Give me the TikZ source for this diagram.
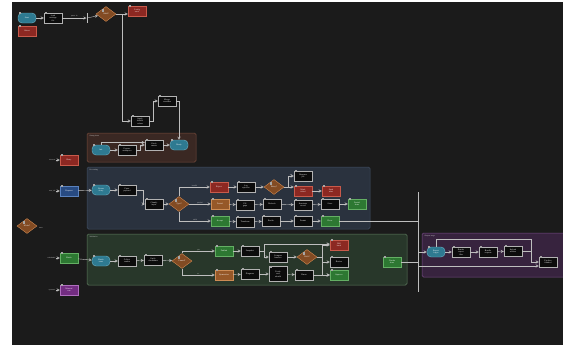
\documentclass[tikz,border=0pt]{standalone}
\usepackage{tikz}
\usetikzlibrary{positioning,calc,shapes.geometric}
\definecolor{CanvasDark}{RGB}{27,27,27}
\definecolor{EdgeGrey}{RGB}{190,190,190}
\definecolor{TermTeal}{RGB}{46,122,145}
\definecolor{TermEdge}{RGB}{110,180,200}
\definecolor{ErrRed}{RGB}{140,40,34}
\definecolor{ErrEdge}{RGB}{200,90,75}
\definecolor{WarnOrange}{RGB}{150,88,40}
\definecolor{WarnEdge}{RGB}{205,140,85}
\definecolor{OkGreen}{RGB}{45,120,50}
\definecolor{OkEdge}{RGB}{100,175,100}
\definecolor{InBlue}{RGB}{40,75,130}
\definecolor{InEdge}{RGB}{90,130,190}
\definecolor{OutPurple}{RGB}{115,45,130}
\definecolor{OutEdge}{RGB}{175,110,190}
\definecolor{DecBrown}{RGB}{130,75,35}
\definecolor{DecEdge}{RGB}{205,135,80}
\definecolor{StepBlack}{RGB}{12,12,12}
\definecolor{GrpBrownFill}{RGB}{58,40,35}
\definecolor{GrpBrownLine}{RGB}{120,75,60}
\definecolor{GrpBlueFill}{RGB}{42,50,62}
\definecolor{GrpBlueLine}{RGB}{65,80,100}
\definecolor{GrpGreenFill}{RGB}{40,55,42}
\definecolor{GrpGreenLine}{RGB}{95,125,95}
\definecolor{GrpPurpleFill}{RGB}{55,35,62}
\definecolor{GrpPurpleLine}{RGB}{120,75,135}

\begin{document}
\begin{tikzpicture}[x=1pt, y=-1pt,
  tagmark/.style={draw=white!65!black, fill=StepBlack, minimum size=1.3pt, inner sep=0pt, line width=0.2pt},
  base/.style={rectangle, text=white, font=\sffamily\fontsize{2}{2.4}\selectfont, align=center, inner sep=0.5pt, minimum width=18pt, minimum height=10pt, line width=0.4pt,
    append after command={node[tagmark] at ([xshift=1.6pt]\tikzlastnode.north west) {}}},
  term/.style={base, draw=TermEdge, fill=TermTeal, rounded corners=4pt},
  stepbox/.style={base, draw=white!70!black, fill=StepBlack},
  errbox/.style={base, draw=ErrEdge, fill=ErrRed},
  warnbox/.style={base, draw=WarnEdge, fill=WarnOrange},
  okbox/.style={base, draw=OkEdge, fill=OkGreen},
  inbox/.style={base, draw=InEdge, fill=InBlue},
  outbox/.style={base, draw=OutEdge, fill=OutPurple},
  decision/.style={base, diamond, aspect=1.3, draw=DecEdge, fill=DecBrown, minimum width=20pt, minimum height=15pt},
  grp/.style={rounded corners=1.5pt, line width=0.5pt},
  note/.style={text=white!85!black, font=\sffamily\fontsize{1.8}{2}\selectfont, inner sep=0.3pt},
  arrow/.style={->, >=stealth, draw=EdgeGrey, line width=0.4pt},
  line/.style={draw=EdgeGrey, line width=0.4pt},
  bar/.style={fill=EdgeGrey, inner sep=0pt, minimum width=0.6pt, minimum height=10pt}
]
  \useasboundingbox (0,0) rectangle (563,346);
  \fill[white] (0,0) rectangle (563,346);
  \fill[CanvasDark] (12,2) rectangle (563,345);

  % group panels
  \draw[grp, draw=GrpBrownLine, fill=GrpBrownFill] (87,133) rectangle (196,162);
  \draw[grp, draw=GrpBlueLine, fill=GrpBlueFill] (87,167) rectangle (370,229);
  \draw[grp, draw=GrpGreenLine, fill=GrpGreenFill] (87,234) rectangle (407,285);
  \draw[grp, draw=GrpPurpleLine, fill=GrpPurpleFill] (422,233) rectangle (566,277);
  \node[note, anchor=north west] (setupTitle) at (89,134.5) {Setup phase};
  \node[note, anchor=north west] (procTitle) at (89,168.5) {Processing};
  \node[note, anchor=north west] (checkTitle) at (89,235.5) {Validation};
  \node[note, anchor=north west] (outTitle) at (424,234.5) {Output stage};

  % config chain
  \node[term] (start) at (27,18) {Start};
  \node[errbox] (abort) at (27,31) {Abort};
  \node[stepbox] (load) at (53,18) {Load\\settings\\file};
  \node[bar] (join1) at (87,18) {};
  \node[decision] (valid) at (106,14) {Valid?};
  \node[errbox] (cfgerr) at (137,11) {Config\\error};
  \node[stepbox] (defaults) at (140,121) {Apply\\default\\values};
  \node[stepbox] (merge) at (167,101) {Merge\\overrides};

  % setup
  \node[term] (setupStart) at (101,150) {Init};
  \node[stepbox] (prep) at (127,150) {Prepare\\workspace};
  \node[stepbox] (fetch) at (154,145) {Fetch\\assets};
  \node[term] (setupEnd) at (179,145) {Ready};
  \node[errbox] (retry) at (69,160) {Retry};
  \node[note, left=4pt of retry] (retryLbl) {timeout};

  % processing
  \node[inbox] (request) at (69,191) {Request};
  \node[note, left=4pt of request] (requestLbl) {new job};
  \node[term] (procStart) at (101,190) {Queue\\entry};
  \node[stepbox] (parse) at (127,190) {Parse\\payload};
  \node[stepbox] (classify) at (154,204) {Classify\\input};
  \node[decision] (kind) at (179,204) {Type?};
  \node[errbox] (reject) at (219,187) {Reject};
  \node[stepbox] (logReject) at (246,187) {Log\\rejection};
  \node[decision] (retryable) at (274,187) {Retry?};
  \node[stepbox] (requeue) at (303,176) {Requeue\\job};
  \node[errbox] (fail) at (303,191) {Mark\\failed};
  \node[errbox] (alert) at (331,191) {Send\\alert};
  \node[warnbox] (partial) at (220,204) {Partial};
  \node[stepbox] (fillGaps) at (245,205) {Fill\\gaps};
  \node[stepbox] (recheck) at (272,204) {Recheck};
  \node[stepbox] (annotate) at (303,205) {Annotate\\record};
  \node[stepbox] (store) at (330,204) {Store};
  \node[okbox] (partialDone) at (357,204) {Partial\\done};
  \node[okbox] (accept) at (220,221) {Accept};
  \node[stepbox] (transform) at (245,222) {Transform};
  \node[stepbox] (enrich) at (271,221) {Enrich};
  \node[stepbox] (persist) at (303,221) {Persist};
  \node[okbox] (procDone) at (330,221) {Done};

  % mode switch
  \node[decision] (mode) at (27,226) {Mode?};
  \node[note] (modeAuto) at (41,228) {auto};

  % validation
  \node[okbox] (batch) at (69,258) {Batch};
  \node[note, left=4pt of batch] (batchLbl) {scheduled};
  \node[outbox] (manual) at (69,290) {Manual\\run};
  \node[note, left=4pt of manual] (manualLbl) {operator};
  \node[term] (checkStart) at (101,261) {Batch\\start};
  \node[stepbox] (collect) at (127,261) {Collect\\results};
  \node[stepbox] (verify) at (153,260) {Verify\\checksums};
  \node[decision] (passed) at (182,261) {Passed?};
  \node[okbox] (publish) at (224,251) {Publish};
  \node[stepbox] (snapshot) at (250,251) {Snapshot};
  \node[stepbox] (compare) at (278,257) {Compare\\baseline};
  \node[decision] (drift) at (307,257) {Drift?};
  \node[errbox] (rollback) at (339,245) {Roll\\back};
  \node[stepbox] (review) at (339,262) {Review};
  \node[okbox] (approve) at (339,275) {Approve};
  \node[warnbox] (quarantine) at (224,275) {Quarantine};
  \node[stepbox] (diagnose) at (250,274) {Diagnose};
  \node[stepbox, minimum height=15pt] (patch) at (278,274) {Patch\\and\\rebuild};
  \node[stepbox] (rerun) at (304,275) {Rerun};
  \node[okbox] (checkDone) at (392,262) {Checks\\done};

  % output
  \node[term] (outStart) at (436,252) {Export\\begin};
  \node[stepbox] (render) at (461,252) {Render\\report\\files};
  \node[stepbox] (bundle) at (488,252) {Bundle\\outputs};
  \node[stepbox] (upload) at (513,251) {Upload\\archive};
  \node[stepbox] (finish) at (548,262) {Pipeline\\finished};
  \coordinate (busTop) at (418,192);
  \coordinate (outJoin) at (418,266);
  \coordinate (busLow) at (418,292);
  \coordinate (topRail) at (531,239);

  % config edges
  \draw[arrow] (start) -- (load);
  \draw[arrow] (load) -- node[note, above=1pt]{parse ok} (join1);
  \draw[arrow] (join1) -- (valid);
  \draw[arrow] (valid.east) -- (valid.east -| cfgerr.west);
  \draw[arrow] (valid.east) -- ++(6,0) |- (defaults.west);
  \draw[arrow] (defaults.east) -- ++(4,0) |- (merge.west);
  \draw[arrow] (merge.east) -| (setupEnd.north);

  % setup edges
  \draw[arrow] (retryLbl) -- (retry);
  \draw[arrow] (setupStart) -- (prep);
  \draw[arrow] (prep.east) -- ++(4,0) |- (fetch.west);
  \draw[arrow] (setupStart.north) |- ([yshift=2.5pt]fetch.west);
  \draw[arrow] (fetch) -- (setupEnd);

  % processing edges
  \draw[arrow] (requestLbl) -- (request);
  \draw[arrow] (request) -- (procStart);
  \draw[arrow] (procStart) -- (parse);
  \draw[arrow] (parse.east) -- ++(7,0) |- (classify.west);
  \draw[arrow] (classify) -- (kind);
  \draw[arrow] (kind.north) |- node[note, above, pos=0.75]{invalid} (reject.west);
  \draw[arrow] (kind) -- node[note, above]{partial} (partial);
  \draw[arrow] (kind.south) |- node[note, above, pos=0.75]{valid} (accept.west);
  \draw[arrow] (reject) -- (logReject);
  \draw[arrow] (logReject) -- (retryable);
  \draw[arrow] (retryable.east) -- ++(4,0) |- node[note, above, pos=0.75]{yes} (requeue.west);
  \draw[arrow] (retryable.east) -- (retryable.east -| fail.west);
  \draw[arrow] (fail) -- (alert);
  \draw[arrow] (partial) -- (fillGaps);
  \draw[arrow] (fillGaps) -- (recheck);
  \draw[arrow] (recheck) -- (annotate);
  \draw[arrow] (annotate) -- (store);
  \draw[arrow] (store) -- (partialDone);
  \draw[arrow] (accept) -- (transform);
  \draw[arrow] (transform) -- (enrich);
  \draw[arrow] (enrich) -- (persist);
  \draw[arrow] (persist) -- (procDone);
  \draw[line] (procDone.east) -- (procDone.east -| outJoin);
  \draw[line] (busTop) -- (outJoin);

  % validation edges
  \draw[arrow] (batchLbl) -- (batch);
  \draw[arrow] (manualLbl) -- (manual);
  \draw[arrow] (batch) -- (checkStart);
  \draw[arrow] (checkStart) -- (collect);
  \draw[arrow] (collect) -- (verify);
  \draw[arrow] (verify) -- (passed);
  \draw[arrow] (passed.north) |- node[note, above, pos=0.75]{yes} (publish.west);
  \draw[arrow] (passed.south) |- node[note, above, pos=0.75]{no} (quarantine.west);
  \draw[arrow] (publish) -- (snapshot);
  \draw[arrow] (snapshot.east) -- ++(5,0) |- (compare.west);
  \draw[arrow] (snapshot.east) -- ++(5,0) |- ([yshift=1pt]rollback.west);
  \draw[arrow] (compare) -- (drift);
  \draw[arrow] (drift.east) -- ++(5,0) |- (rollback.west);
  \draw[arrow] (drift.east) -- ++(5,0) |- (review.west);
  \draw[arrow] (drift.east) -- ++(5,0) |- (approve.west);
  \draw[arrow] (quarantine) -- (diagnose);
  \draw[arrow] (diagnose) -- (patch);
  \draw[arrow] (patch) -- (rerun);
  \draw[arrow] (rerun) -- (approve);
  \draw[line] (checkDone.east) -| (outJoin);
  \draw[line] (outJoin) -- (busLow);

  % output edges
  \draw[arrow] (outJoin) |- (outStart.west);
  \draw[arrow] (outStart) -- (render);
  \draw[arrow] (render) -- (bundle);
  \draw[arrow] (bundle) -- (upload);
  \draw[line] (upload.east) -- (upload.east -| topRail);
  \draw[arrow] (outStart.north) |- (topRail) |- (finish.west);
  \draw[arrow] (outJoin) -- (outJoin -| finish.west);
\end{tikzpicture}
\end{document}
